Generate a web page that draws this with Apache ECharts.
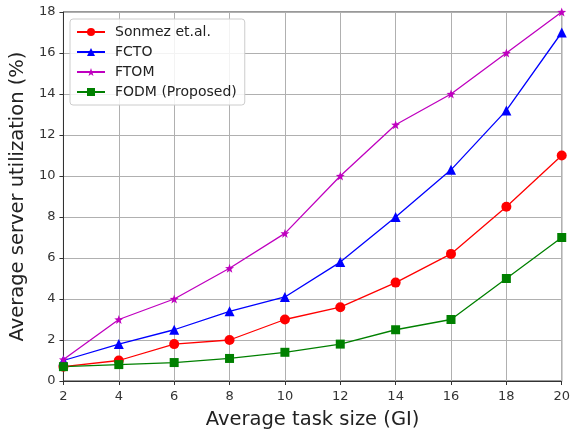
<!DOCTYPE html>
<html><head><meta charset="utf-8">
<script src="https://cdn.jsdelivr.net/npm/echarts@6/dist/echarts.min.js"></script>
<style>html,body{margin:0;padding:0;background:#fff}#c{width:573px;height:435px}</style>
</head><body><div id="c"></div>
<script>
const taskSizes = [2,4,6,8,10,12,14,16,18,20];
const sonmez = [0.7,1.0,1.8,2.0,3.0,3.6,4.8,6.2,8.5,11.0];
const fcto = [1.0,1.8,2.5,3.4,4.1,5.8,8.0,10.3,13.2,17.0];
const ftom = [1.05,3.0,4.0,5.5,7.2,10.0,12.5,14.0,16.0,18.0];
const fodm = [0.7,0.8,0.9,1.1,1.4,1.8,2.5,3.0,5.0,7.0];
const names = ['Sonmez et.al.','FCTO','FTOM','FODM (Proposed)'];

const pair = arr => taskSizes.map((x,i)=>[x,arr[i]]);
const font = 'DejaVu Sans';
function ser(name, data, color, symbol, size){
  return {name, type:'line', data:pair(data), symbol, symbolSize:size,
    lineStyle:{color, width:1.3}, itemStyle:{color}, z:3};
}
const chart = echarts.init(document.getElementById('c'));
chart.setOption({
  animation:false,
  textStyle:{fontFamily:font},
  grid:{left:63, right:10, top:12, bottom:51, show:true, borderColor:'#333', borderWidth:1, backgroundColor:'transparent'},
  legend:{
    left:70, top:19, orient:'vertical', itemWidth:28, itemHeight:10, itemGap:6,
    padding:[6,8,6,6],
    borderColor:'#ccc', borderWidth:1, borderRadius:3, backgroundColor:'rgba(255,255,255,0.85)',
    textStyle:{fontFamily:font, fontSize:14, color:'#222', padding:[0,0,0,5]},
    data:names
  },
  xAxis:{type:'value', min:2, max:20, interval:2,
    name:'Average task size (GI)', nameLocation:'middle', nameGap:29,
    nameTextStyle:{fontFamily:font, fontSize:19.5, color:'#222'},
    axisLine:{show:true, lineStyle:{color:'#333'}},
    axisTick:{show:true, length:4, lineStyle:{color:'#333'}},
    axisLabel:{fontFamily:font, fontSize:13, color:'#333', margin:9},
    splitLine:{show:true, lineStyle:{color:'#b0b0b0', width:1}}
  },
  yAxis:{type:'value', min:0, max:18, interval:2,
    name:'Average server utilization (%)', nameLocation:'middle', nameGap:35,
    nameTextStyle:{fontFamily:font, fontSize:19.5, color:'#222'},
    axisLine:{show:true, lineStyle:{color:'#333'}},
    axisTick:{show:true, length:4, lineStyle:{color:'#333'}},
    axisLabel:{fontFamily:font, fontSize:13, color:'#333', margin:8},
    splitLine:{show:true, lineStyle:{color:'#b0b0b0', width:1}}
  },
  series:[
    ser(names[0], sonmez, '#ff0000', 'circle', 10),
    ser(names[1], fcto, '#0000ff', 'triangle', 10),
    ser(names[2], ftom, '#bf00bf', 'path://M0,-10 L2.35,-3.24 L9.51,-3.09 L3.80,1.24 L5.88,8.09 L0,4 L-5.88,8.09 L-3.80,1.24 L-9.51,-3.09 L-2.35,-3.24 Z', 9),
    ser(names[3], fodm, '#008000', 'rect', 9)
  ]
});
</script></body></html>
